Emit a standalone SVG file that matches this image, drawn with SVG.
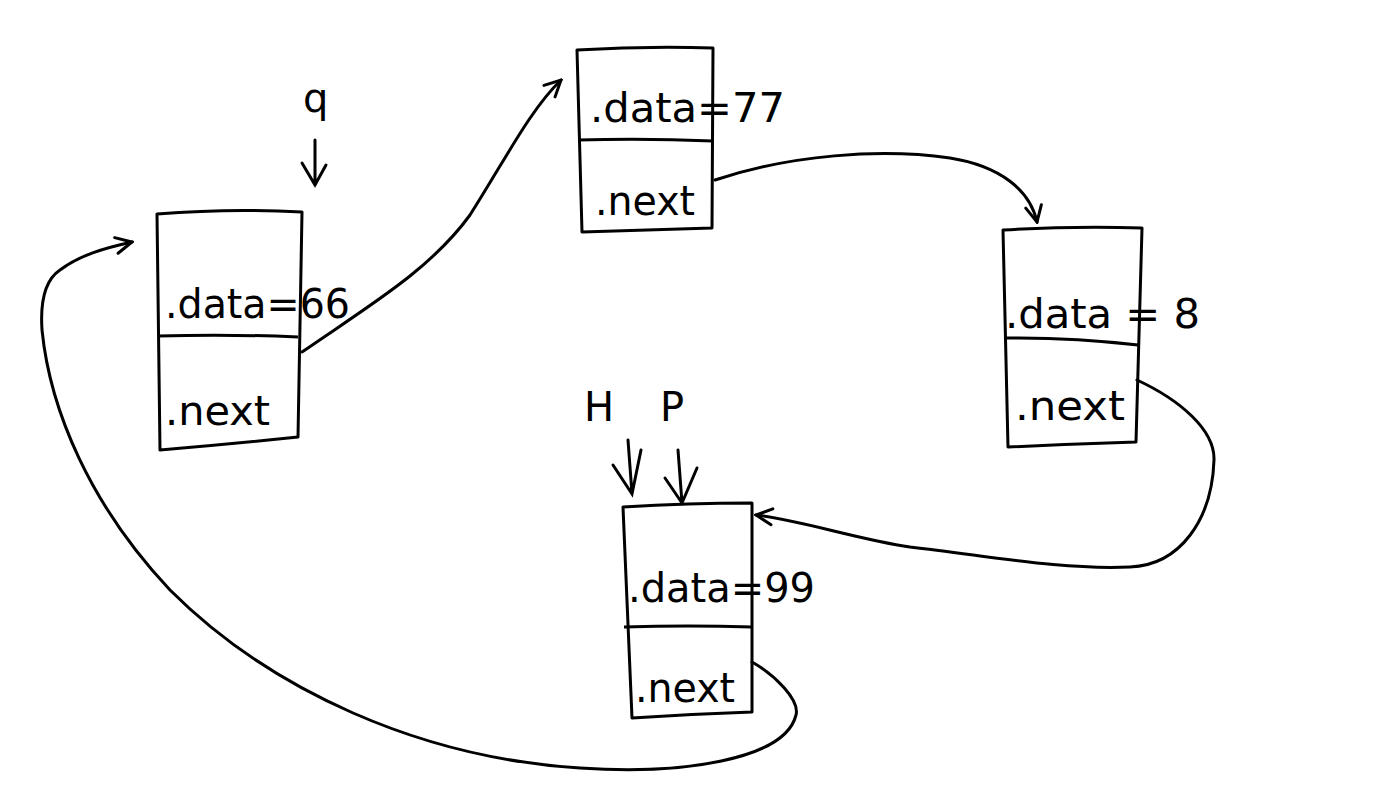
<svg xmlns="http://www.w3.org/2000/svg" width="1377" height="790" viewBox="0 0 1377 790">
<defs>
<marker id="ah" viewBox="0 0 20 20" refX="18" refY="10" markerWidth="20" markerHeight="20" markerUnits="userSpaceOnUse" orient="auto">
<path d="M2,2 L18,10 L2,18" fill="none" stroke="#000" stroke-width="3" stroke-linecap="round"/>
</marker>
</defs>
<style>
.box{fill:none;stroke:#000;stroke-width:3;stroke-linejoin:round}
.ln{fill:none;stroke:#000;stroke-width:3;stroke-linecap:round}
.t{font-family:"DejaVu Sans","Liberation Sans",sans-serif;font-size:40px;fill:#000}
</style>
<rect width="1377" height="790" fill="#fff"/>
<g id="node66">
<path class="box" d="M157,214 Q230,208 302,212 L298,437 Q230,444 160,450 Z"/>
<path class="box" d="M158,336 Q228,334 298,337"/>
<text class="t" x="165" y="318" textLength="185" lengthAdjust="spacingAndGlyphs">.data=66</text>
<text class="t" x="165" y="425" textLength="105" lengthAdjust="spacingAndGlyphs">.next</text>
</g>
<g id="node77">
<path class="box" d="M577,50 Q645,46 713,48 L712,228 Q647,230 582,232 Z"/>
<path class="box" d="M578,140 Q645,138 713,141"/>
<text class="t" x="590" y="122" textLength="195" lengthAdjust="spacingAndGlyphs">.data=77</text>
<text class="t" x="595" y="215" textLength="100" lengthAdjust="spacingAndGlyphs">.next</text>
</g>
<g id="node8">
<path class="box" d="M1003,230 Q1072,226 1142,228 L1136,442 Q1072,444 1008,447 Z"/>
<path class="box" d="M1004,338 Q1070,337 1138,345"/>
<text class="t" x="1005" y="328" textLength="195" lengthAdjust="spacingAndGlyphs">.data = 8</text>
<text class="t" x="1015" y="420" textLength="110" lengthAdjust="spacingAndGlyphs">.next</text>
</g>
<g id="node99">
<path class="box" d="M623,507 Q688,503 752,503 L752,712 Q692,714 632,718 Z"/>
<path class="box" d="M624,627 Q688,625 752,627"/>
<text class="t" x="628" y="602" textLength="187" lengthAdjust="spacingAndGlyphs">.data=99</text>
<text class="t" x="635" y="702" textLength="100" lengthAdjust="spacingAndGlyphs">.next</text>
</g>
<g id="labels">
<text class="t" x="303" y="112" font-size="44">q</text>
<text class="t" x="584" y="421">H</text>
<text class="t" x="660" y="421">P</text>
</g>
<g id="connectors">
<path class="ln" d="M315,140 L315,185 M302,163 L315,185 L326,165"/>
<path class="ln" d="M628,440 L632,494 M613,465 L632,494 L641,450"/>
<path class="ln" d="M678,450 L682,503 M665,478 L682,503 L697,468"/>
<path class="ln" marker-end="url(#ah)" d="M302,352 C370,305 430,270 470,215 C505,160 530,110 561,80"/>
<path class="ln" marker-end="url(#ah)" d="M715,180 C790,155 880,148 950,158 C1000,166 1030,190 1037,222"/>
<path class="ln" marker-end="url(#ah)" d="M1137,380 C1180,400 1215,430 1214,460 C1212,520 1180,565 1130,567 C1060,570 990,556 910,547 C860,540 800,520 756,515"/>
<path class="ln" marker-end="url(#ah)" d="M752,662 C775,675 800,700 796,715 C785,760 680,775 580,768 C420,758 270,690 170,590 C90,505 50,410 42,330 C40,300 45,280 60,270 C80,255 105,248 132,242"/>
</g>
</svg>
